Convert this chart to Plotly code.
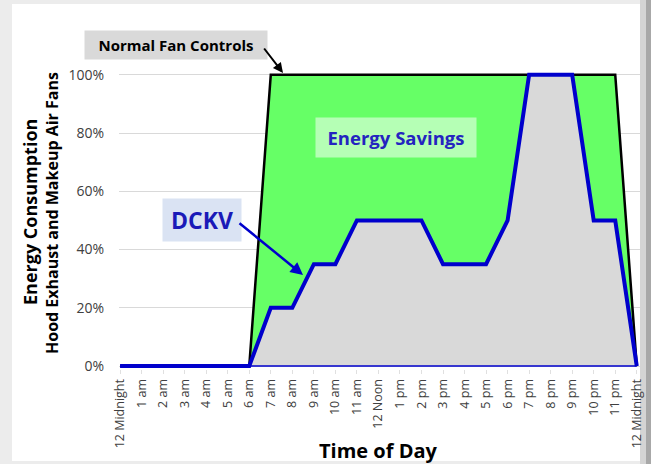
import plotly.graph_objects as go

# ---- data ----
hours = list(range(25))
tick_labels = ["12 Midnight", "1 am", "2 am", "3 am", "4 am", "5 am", "6 am", "7 am",
               "8 am", "9 am", "10 am", "11 am", "12 Noon", "1 pm", "2 pm", "3 pm",
               "4 pm", "5 pm", "6 pm", "7 pm", "8 pm", "9 pm", "10 pm", "11 pm",
               "12 Midnight"]
normal_pct = [0, 0, 0, 0, 0, 0, 0, 100, 100, 100, 100, 100, 100, 100, 100, 100,
              100, 100, 100, 100, 100, 100, 100, 100, 0]
dckv_pct = [0, 0, 0, 0, 0, 0, 0, 20, 20, 35, 35, 50, 50, 50, 50, 35, 35, 35, 50,
            100, 100, 100, 50, 50, 0]
baseline_pct = [0] * len(hours)
y_ticks = [0, 20, 40, 60, 80, 100]

# ---- layout geometry ----
W, H = 651, 464
L, R, T, B = 119, 11, 69, 95
PW, PH = W - L - R, H - T - B


def xp(px):
    return (px - L) / PW


def yp(py):
    return (H - B - py) / PH


FONT = "Open Sans"
GREEN = "#66ff66"
GREY = "#d9d9d9"
BLUE = "#0000cc"

fig = go.Figure()
fig.add_trace(go.Scatter(x=hours, y=normal_pct, mode="lines", fill="tozeroy",
                         fillcolor=GREEN, line=dict(color="black", width=2.5),
                         hoverinfo="skip", showlegend=False))
fig.add_trace(go.Scatter(x=hours, y=dckv_pct, mode="lines", fill="tozeroy",
                         fillcolor=GREY, line=dict(color=BLUE, width=4),
                         hoverinfo="skip", showlegend=False))
fig.add_trace(go.Scatter(x=hours, y=baseline_pct, mode="lines",
                         line=dict(color=BLUE, width=1.5),
                         hoverinfo="skip", showlegend=False))

shapes = [
    dict(type="rect", xref="paper", yref="paper", x0=xp(12), x1=xp(640), y0=yp(461), y1=yp(4),
         fillcolor="white", line=dict(width=0), layer="below"),
    dict(type="rect", xref="paper", yref="paper", x0=xp(640), x1=xp(646), y0=yp(464), y1=yp(0),
         fillcolor="#d4d4d4", line=dict(width=0), layer="below"),
    dict(type="rect", xref="paper", yref="paper", x0=xp(646), x1=xp(651), y0=yp(464), y1=yp(0),
         fillcolor="#a8a8a8", line=dict(width=0), layer="below"),
]


def label(text, cx, cy, size, color, **kw):
    return dict(text=text, xref="paper", yref="paper", x=xp(cx), y=yp(cy),
                xanchor="center", yanchor="middle", showarrow=False,
                font=dict(family=FONT, size=size, color=color), **kw)


annotations = [
    # y-axis titles
    label("<b>Energy Consumption</b>", 30, 212, 18, "black", textangle=-90),
    label("<b>Hood Exhaust and Makeup Air Fans</b>", 52, 213, 16, "black", textangle=-90),
    # x-axis title
    label("<b>Time of Day</b>", 378, 450, 20, "black"),
    # Normal Fan Controls label + arrow
    label("<b>Normal Fan Controls</b>", 176, 45, 15, "black",
          width=182, height=28, bgcolor=GREY, borderpad=0),
    dict(text="", xref="paper", yref="paper", x=xp(283), y=yp(73), ax=-20, ay=-26,
         showarrow=True, arrowhead=2, arrowsize=1, arrowwidth=2, arrowcolor="black"),
    # DCKV label + arrow
    label("<b>DCKV</b>", 202, 220, 23, "#1a1ab8",
          width=78, height=42, bgcolor="#dae3f3", borderpad=0),
    dict(text="", xref="paper", yref="paper", x=xp(303), y=yp(275), ax=-65, ay=-53,
         showarrow=True, arrowhead=2, arrowsize=1, arrowwidth=2.5, arrowcolor=BLUE),
    # Energy Savings label
    label("<b>Energy Savings</b>", 396, 137, 18.5, "#2424c0",
          width=160, height=39, bgcolor="#b5ffb5", borderpad=0),
]

fig.update_layout(
    width=W, height=H,
    margin=dict(l=L, r=R, t=T, b=B),
    paper_bgcolor="#ececec",
    plot_bgcolor="rgba(0,0,0,0)",
    shapes=shapes,
    annotations=annotations,
    font=dict(family=FONT, color="#595959"),
    xaxis=dict(range=[-0.05, 24.15], tickmode="array", tickvals=hours, ticktext=tick_labels,
               tickangle=-90, showgrid=False, zeroline=False, showline=False,
               automargin=False,
               ticks="outside", ticklen=4, tickcolor="#e0e0e0",
               tickfont=dict(family=FONT, size=12.5, color="#404040")),
    yaxis=dict(range=[-1, 102], tickmode="array", tickvals=y_ticks,
               ticktext=[f"{v}%" for v in y_ticks], showgrid=True, gridcolor="#d9d9d9",
               gridwidth=1, zeroline=False, showline=False, ticklabelstandoff=14,
               automargin=False,
               tickfont=dict(family=FONT, size=14, color="#404040")),
)

fig.write_html("out.html", config={"displayModeBar": False},
               post_script="document.body.style.margin='0';")
